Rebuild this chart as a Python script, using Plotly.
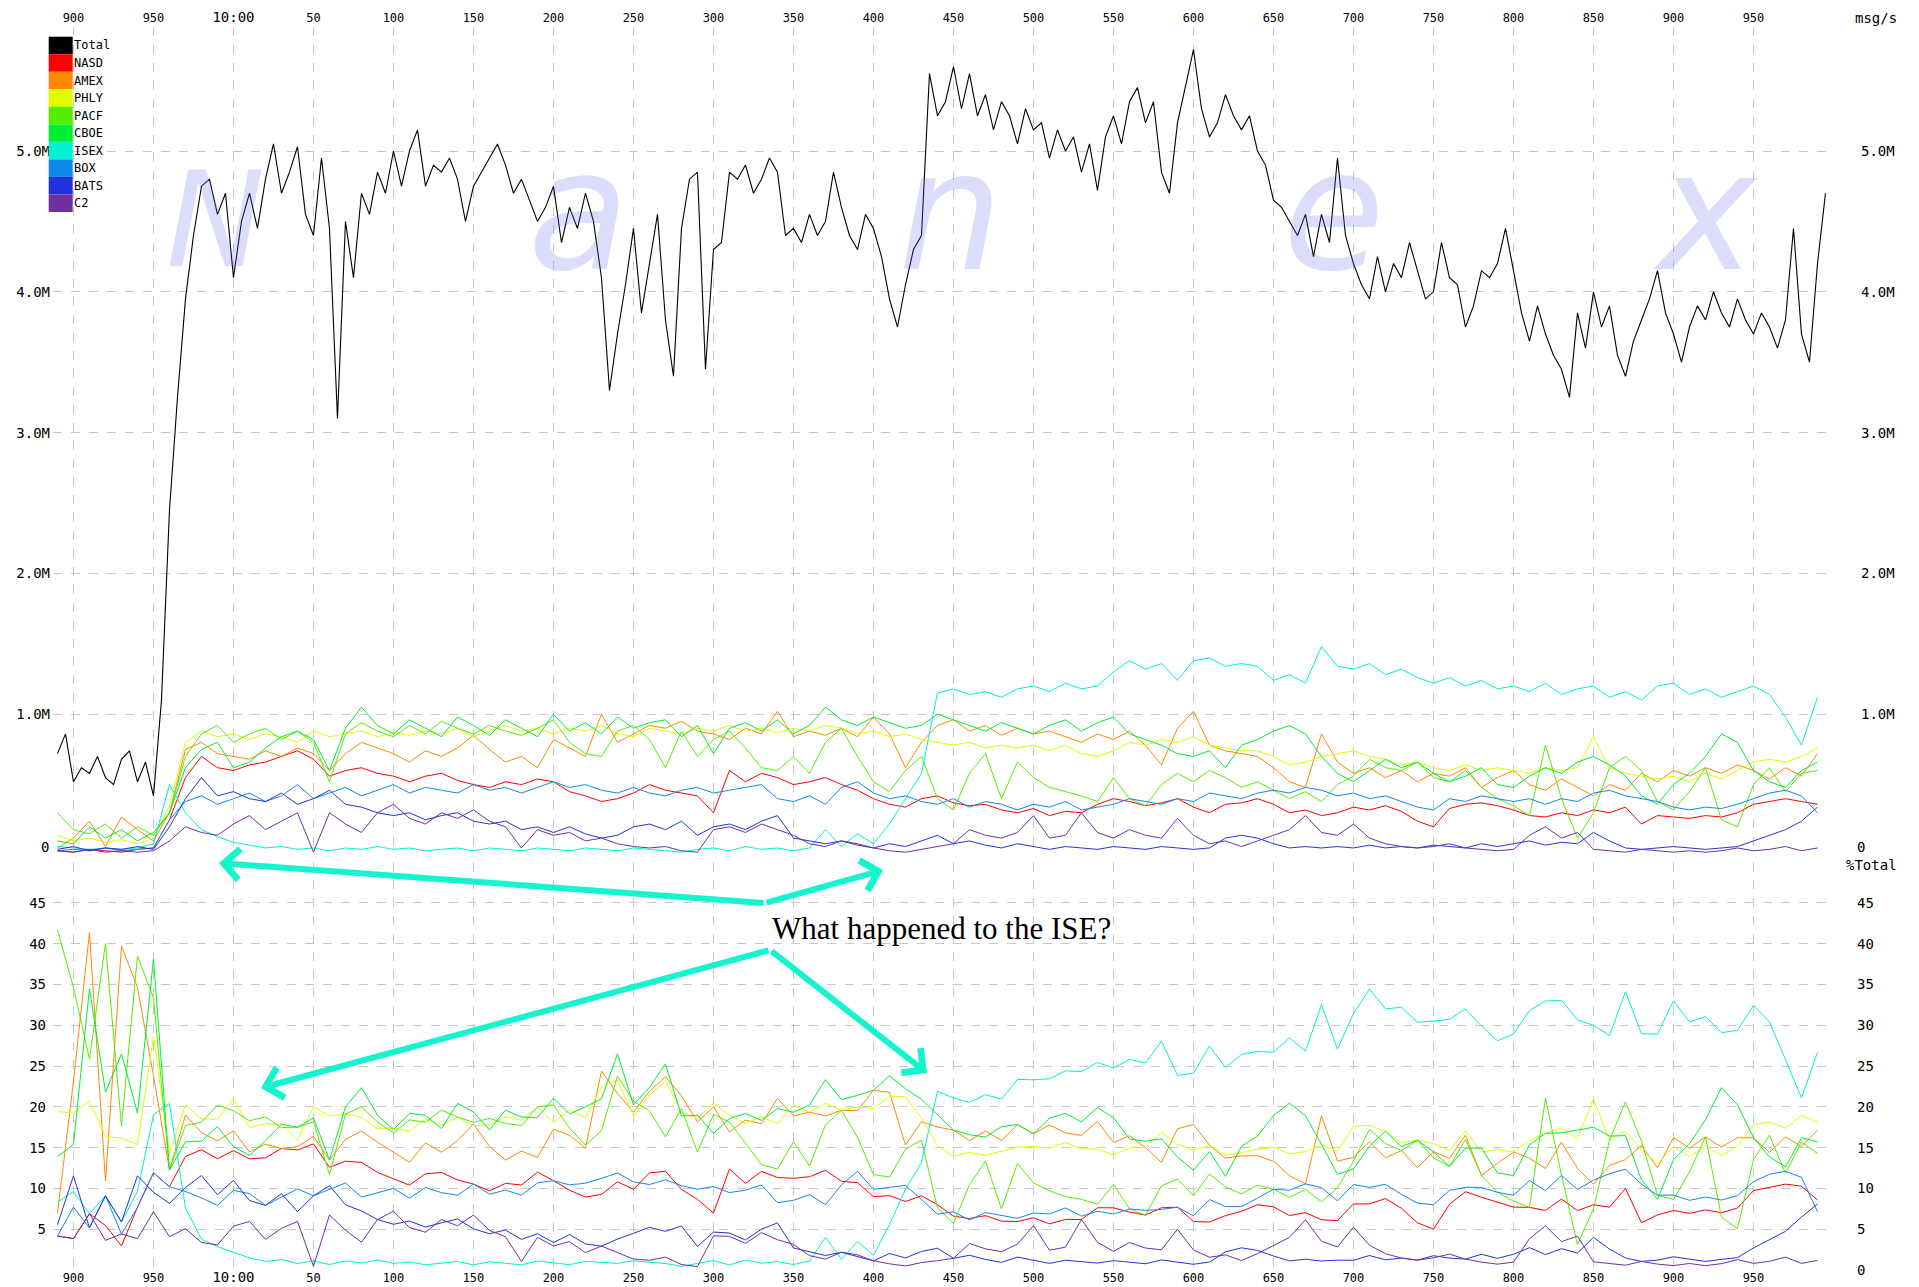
import plotly.graph_objects as go

# ---------------- data ----------------
T_START = 890          # ms after 9:59:59.000 (890 -> 9:59:59.890)
TOTAL_STEP = 5         # ms between Total samples
SERIES_STEP = 10       # ms between exchange samples

# Total msg/s, in millions
TOTAL = [
    0.72, 0.86, 0.52, 0.62, 0.58, 0.70, 0.55, 0.50, 0.68, 0.74,
    0.52, 0.66, 0.42, 1.10, 2.45, 3.25, 3.95, 4.40, 4.75, 4.80,
    4.55, 4.70, 4.10, 4.50, 4.70, 4.45, 4.80, 5.05, 4.70, 4.85,
    5.03, 4.55, 4.40, 4.95, 4.45, 3.10, 4.50, 4.10, 4.70, 4.55,
    4.85, 4.70, 5.00, 4.75, 5.00, 5.15, 4.75, 4.90, 4.85, 4.95,
    4.80, 4.50, 4.75, 4.85, 4.95, 5.05, 4.90, 4.70, 4.80, 4.65,
    4.50, 4.60, 4.75, 4.35, 4.60, 4.45, 4.70, 4.50, 4.10, 3.30,
    3.70, 4.05, 4.45, 3.85, 4.20, 4.55, 3.80, 3.40, 4.45, 4.80,
    4.85, 3.45, 4.30, 4.35, 4.85, 4.80, 4.90, 4.70, 4.80, 4.95,
    4.85, 4.40, 4.45, 4.35, 4.55, 4.40, 4.50, 4.85, 4.60, 4.40,
    4.30, 4.55, 4.45, 4.25, 3.95, 3.75, 4.05, 4.30, 4.40, 5.55,
    5.25, 5.35, 5.60, 5.30, 5.55, 5.25, 5.40, 5.15, 5.35, 5.25,
    5.05, 5.30, 5.15, 5.20, 4.95, 5.15, 5.00, 5.10, 4.85, 5.05,
    4.72, 5.10, 5.25, 5.05, 5.35, 5.45, 5.20, 5.35, 4.85, 4.70,
    5.20, 5.45, 5.72, 5.30, 5.10, 5.20, 5.40, 5.25, 5.15, 5.25,
    5.00, 4.90, 4.65, 4.60, 4.50, 4.40, 4.55, 4.25, 4.55, 4.35,
    4.95, 4.40, 4.20, 4.05, 3.95, 4.25, 4.00, 4.20, 4.10, 4.35,
    4.15, 3.95, 4.00, 4.35, 4.10, 4.05, 3.75, 3.90, 4.15, 4.10,
    4.20, 4.45, 4.15, 3.85, 3.65, 3.90, 3.70, 3.55, 3.45, 3.25,
    3.85, 3.60, 4.00, 3.75, 3.90, 3.55, 3.40, 3.65, 3.80, 3.95,
    4.15, 3.85, 3.70, 3.50, 3.75, 3.90, 3.80, 4.00, 3.85, 3.75,
    3.95, 3.80, 3.70, 3.85, 3.75, 3.60, 3.80, 4.45, 3.70, 3.50,
    4.20, 4.70,
]

# Exchange msg/s, in millions (10 ms samples from 890 to 1990)
NASD = [
    0.03, 0.02, 0.04, 0.03, 0.02, 0.04, 0.05,
    0.25, 0.55, 0.70, 0.62, 0.60, 0.64, 0.66, 0.70, 0.74, 0.68,
    0.56, 0.60, 0.62, 0.58, 0.56, 0.52, 0.56, 0.58, 0.53, 0.50,
    0.48, 0.52, 0.50, 0.54, 0.52, 0.45, 0.42, 0.38, 0.40, 0.44,
    0.50, 0.46, 0.44, 0.42, 0.30, 0.60, 0.52, 0.58, 0.55, 0.50,
    0.52, 0.55, 0.50, 0.46, 0.40, 0.36, 0.34, 0.40, 0.42, 0.37,
    0.35, 0.36, 0.32, 0.30, 0.33, 0.28, 0.31, 0.30, 0.36, 0.40,
    0.38, 0.35, 0.37, 0.40, 0.34, 0.30, 0.36, 0.37, 0.40, 0.36,
    0.30, 0.32, 0.28, 0.30, 0.34, 0.32, 0.35, 0.31, 0.24, 0.20,
    0.33, 0.36, 0.37, 0.35, 0.32, 0.28, 0.27, 0.30, 0.28, 0.32,
    0.30, 0.34, 0.22, 0.28, 0.27, 0.26, 0.28, 0.27, 0.30, 0.36,
    0.38, 0.40, 0.38, 0.36,
]
AMEX = [
    0.05, 0.12, 0.24, 0.06, 0.27, 0.18, 0.10,
    0.30, 0.75, 0.80, 0.72, 0.70, 0.68, 0.74, 0.70, 0.76, 0.72,
    0.60, 0.72, 0.80, 0.76, 0.72, 0.66, 0.74, 0.70, 0.76, 0.85,
    0.75, 0.66, 0.70, 0.62, 0.82, 0.76, 0.70, 1.00, 0.80, 0.86,
    0.92, 0.90, 0.95, 0.88, 0.86, 0.82, 0.90, 0.86, 1.02, 0.84,
    0.88, 0.85, 0.90, 0.84, 0.98, 0.86, 0.62, 0.80, 0.92, 0.96,
    0.88, 0.92, 0.85, 0.90, 0.86, 0.88, 0.84, 0.80, 0.86, 0.82,
    0.88, 0.78, 0.64, 0.90, 1.02, 0.78, 0.74, 0.72, 0.70, 0.62,
    0.52, 0.48, 0.86, 0.66, 0.58, 0.62, 0.55, 0.60, 0.52, 0.58,
    0.56, 0.62, 0.48, 0.55, 0.60, 0.50, 0.46, 0.54, 0.48, 0.42,
    0.50, 0.46, 0.58, 0.52, 0.60, 0.56, 0.62, 0.58, 0.64, 0.60,
    0.54, 0.62, 0.56, 0.72,
]
PHLY = [
    0.14, 0.10, 0.12, 0.09, 0.11, 0.08, 0.12,
    0.35, 0.80, 0.88, 0.84, 0.86, 0.82, 0.86, 0.84, 0.80, 0.88,
    0.84, 0.86, 0.88, 0.84, 0.87, 0.85, 0.88, 0.86, 0.90, 0.84,
    0.88, 0.92, 0.88, 0.90, 0.86, 0.90, 0.88, 0.92, 0.86, 0.84,
    0.90, 0.88, 0.86, 0.90, 0.88, 0.92, 0.88, 0.90, 0.87, 0.90,
    0.88, 0.92, 0.90, 0.86, 0.88, 0.84, 0.86, 0.82, 0.80, 0.78,
    0.80, 0.76, 0.78, 0.76, 0.78, 0.74, 0.78, 0.72, 0.70, 0.74,
    0.80, 0.78, 0.82, 0.80, 0.84, 0.78, 0.76, 0.74, 0.74, 0.70,
    0.64, 0.66, 0.70, 0.72, 0.74, 0.70, 0.68, 0.64, 0.66, 0.62,
    0.60, 0.64, 0.60, 0.62, 0.60, 0.58, 0.62, 0.60, 0.62, 0.84,
    0.62, 0.58, 0.56, 0.54, 0.56, 0.52, 0.58, 0.54, 0.60, 0.66,
    0.68, 0.66, 0.70, 0.76,
]
PACF = [
    0.30, 0.18, 0.15, 0.22, 0.12, 0.20, 0.14,
    0.30, 0.70, 0.86, 0.92, 0.80, 0.86, 0.90, 0.82, 0.88, 0.80,
    0.52, 0.86, 0.94, 0.88, 0.84, 0.92, 0.86, 0.95, 0.90, 0.86,
    0.92, 0.88, 0.85, 0.90, 0.96, 0.80, 0.72, 0.70, 0.88, 0.92,
    0.82, 0.62, 0.88, 0.70, 0.82, 0.88, 0.76, 0.62, 0.60, 0.70,
    0.58, 0.80, 0.90, 0.70, 0.52, 0.45, 0.60, 0.70, 0.40, 0.32,
    0.58, 0.72, 0.40, 0.66, 0.55, 0.48, 0.45, 0.42, 0.38, 0.55,
    0.40, 0.35, 0.50, 0.58, 0.52, 0.60, 0.55, 0.48, 0.52, 0.46,
    0.40, 0.45, 0.38, 0.50, 0.56, 0.68, 0.62, 0.60, 0.66, 0.55,
    0.52, 0.60, 0.48, 0.40, 0.35, 0.28, 0.78, 0.40, 0.12, 0.30,
    0.62, 0.70, 0.60, 0.38, 0.32, 0.45, 0.62, 0.25, 0.20, 0.50,
    0.62, 0.45, 0.58, 0.60,
]
CBOE = [
    0.10, 0.08, 0.20, 0.12, 0.18, 0.10, 0.16,
    0.30, 0.62, 0.75, 0.80, 0.62, 0.66, 0.76, 0.84, 0.88, 0.82,
    0.60, 0.90, 1.05, 0.92, 0.86, 0.96, 0.90, 0.84, 0.98, 0.92,
    0.85, 0.96, 0.90, 0.84, 1.00, 0.88, 0.94, 0.86, 0.98, 0.90,
    0.94, 0.96, 0.84, 0.92, 0.72, 0.90, 0.94, 0.88, 0.96, 0.86,
    0.92, 1.05, 0.96, 0.92, 0.98, 0.94, 0.90, 0.92, 1.00, 0.96,
    0.92, 0.88, 0.94, 0.90, 0.86, 0.92, 0.96, 0.88, 0.94, 0.98,
    0.86, 0.82, 0.78, 0.72, 0.70, 0.74, 0.62, 0.78, 0.82, 0.88,
    0.92, 0.86, 0.70, 0.58, 0.52, 0.60, 0.68, 0.62, 0.66, 0.58,
    0.52, 0.56, 0.62, 0.50, 0.48, 0.56, 0.62, 0.58, 0.66, 0.70,
    0.64, 0.56, 0.42, 0.36, 0.50, 0.58, 0.70, 0.86, 0.80, 0.60,
    0.52, 0.48, 0.60, 0.66,
]
ISEX = [
    0.06, 0.05, 0.04, 0.05, 0.04, 0.05, 0.08,
    0.50, 0.30, 0.18, 0.13, 0.09, 0.07, 0.05, 0.06, 0.04, 0.05,
    0.03, 0.05, 0.04, 0.06, 0.04, 0.05, 0.03, 0.04, 0.05, 0.03,
    0.05, 0.04, 0.03, 0.05, 0.04, 0.03, 0.05, 0.04, 0.03, 0.05,
    0.04, 0.03, 0.02, 0.04, 0.05, 0.03, 0.06, 0.04, 0.05, 0.03,
    0.05, 0.18, 0.06, 0.15, 0.08, 0.22, 0.40, 0.58, 1.15, 1.18,
    1.14, 1.16, 1.12, 1.18, 1.20, 1.16, 1.22, 1.18, 1.20, 1.30,
    1.38, 1.32, 1.36, 1.24, 1.38, 1.40, 1.34, 1.36, 1.34, 1.24,
    1.28, 1.22, 1.48, 1.34, 1.32, 1.36, 1.28, 1.32, 1.26, 1.22,
    1.26, 1.20, 1.24, 1.18, 1.20, 1.16, 1.22, 1.14, 1.18, 1.20,
    1.12, 1.16, 1.10, 1.20, 1.22, 1.14, 1.18, 1.12, 1.16, 1.20,
    1.14, 0.98, 0.78, 1.12,
]
BOX = [
    0.03, 0.04, 0.03, 0.05, 0.03, 0.04, 0.05,
    0.25, 0.38, 0.42, 0.36, 0.40, 0.44, 0.38, 0.42, 0.50, 0.40,
    0.44, 0.48, 0.42, 0.46, 0.50, 0.44, 0.48, 0.46, 0.44, 0.50,
    0.46, 0.48, 0.44, 0.48, 0.52, 0.48, 0.50, 0.46, 0.44, 0.48,
    0.44, 0.42, 0.46, 0.48, 0.44, 0.46, 0.48, 0.50, 0.40, 0.38,
    0.42, 0.36, 0.48, 0.52, 0.44, 0.40, 0.42, 0.38, 0.36, 0.40,
    0.34, 0.38, 0.36, 0.32, 0.36, 0.34, 0.38, 0.32, 0.34, 0.36,
    0.40, 0.38, 0.36, 0.40, 0.38, 0.44, 0.42, 0.40, 0.44, 0.46,
    0.44, 0.48, 0.46, 0.42, 0.44, 0.40, 0.42, 0.38, 0.34, 0.32,
    0.40, 0.38, 0.42, 0.40, 0.38, 0.40, 0.36, 0.40, 0.38, 0.44,
    0.46, 0.42, 0.40, 0.38, 0.34, 0.32, 0.34, 0.33, 0.36, 0.40,
    0.44, 0.46, 0.42, 0.30,
]
BATS = [
    0.04, 0.06, 0.03, 0.05, 0.04, 0.06, 0.04,
    0.20, 0.40, 0.55, 0.42, 0.45, 0.40, 0.38, 0.44, 0.36, 0.40,
    0.46, 0.36, 0.34, 0.30, 0.28, 0.30, 0.25, 0.28, 0.30, 0.24,
    0.22, 0.24, 0.18, 0.20, 0.16, 0.20, 0.15, 0.12, 0.14, 0.20,
    0.22, 0.18, 0.24, 0.14, 0.20, 0.22, 0.18, 0.24, 0.28, 0.12,
    0.10, 0.08, 0.10, 0.07, 0.05, 0.08, 0.06, 0.10, 0.14, 0.08,
    0.10, 0.07, 0.05, 0.08, 0.06, 0.04, 0.06, 0.05, 0.04, 0.06,
    0.05, 0.04, 0.06, 0.05, 0.04, 0.05, 0.12, 0.14, 0.12, 0.08,
    0.05, 0.06, 0.05, 0.06, 0.05, 0.07, 0.05, 0.06, 0.05, 0.07,
    0.06, 0.05, 0.08, 0.06, 0.08, 0.10, 0.07, 0.09, 0.08, 0.16,
    0.10, 0.05, 0.04, 0.05, 0.06, 0.05, 0.04, 0.05, 0.06, 0.10,
    0.14, 0.18, 0.24, 0.34,
]
C2 = [
    0.03, 0.02, 0.04, 0.02, 0.03, 0.02, 0.03,
    0.10, 0.20, 0.16, 0.14, 0.22, 0.28, 0.18, 0.24, 0.30, 0.02,
    0.30, 0.22, 0.16, 0.30, 0.36, 0.26, 0.22, 0.30, 0.26, 0.32,
    0.24, 0.20, 0.05, 0.18, 0.14, 0.16, 0.10, 0.12, 0.08, 0.06,
    0.05, 0.06, 0.03, 0.02, 0.18, 0.20, 0.16, 0.22, 0.18, 0.14,
    0.08, 0.06, 0.10, 0.08, 0.05, 0.03, 0.02, 0.04, 0.06, 0.08,
    0.18, 0.14, 0.12, 0.16, 0.28, 0.12, 0.14, 0.30, 0.16, 0.12,
    0.18, 0.14, 0.12, 0.26, 0.14, 0.08, 0.10, 0.06, 0.10, 0.14,
    0.18, 0.28, 0.16, 0.14, 0.22, 0.12, 0.08, 0.06, 0.05, 0.06,
    0.08, 0.05, 0.04, 0.03, 0.04, 0.14, 0.20, 0.12, 0.16, 0.04,
    0.03, 0.02, 0.04, 0.03, 0.02, 0.03, 0.02, 0.03, 0.05, 0.03,
    0.04, 0.06, 0.03, 0.05,
]

SERIES_NAMES = ["NASD", "AMEX", "PHLY", "PACF", "CBOE", "ISEX", "BOX", "BATS", "C2"]
SERIES_VALUES = [NASD, AMEX, PHLY, PACF, CBOE, ISEX, BOX, BATS, C2]
SERIES_COLORS = ["#ff0000", "#ff8800", "#ddff00", "#55ee00", "#00ee33",
                 "#00f2d2", "#1188ee", "#2233dd", "#7030a0"]
TOTAL_NAME = "Total"
TOTAL_COLOR = "#000000"

X_TICKS = [900, 950, 1000, 1050, 1100, 1150, 1200, 1250, 1300, 1350, 1400,
           1450, 1500, 1550, 1600, 1650, 1700, 1750, 1800, 1850, 1900, 1950]
X_TICK_LABELS = ["900", "950", "10:00", "50", "100",
                 "150", "200", "250", "300", "350", "400", "450", "500", "550",
                 "600", "650", "700", "750", "800", "850", "900", "950"]
MSG_TICKS = [0, 1, 2, 3, 4, 5]
MSG_TICK_TEXT = ["", "1.0M", "2.0M", "3.0M", "4.0M", "5.0M"]   # "0" drawn raised, below
MSG_ZERO_TEXT = "0"
PCT_TICKS = [0, 5, 10, 15, 20, 25, 30, 35, 40, 45]
PCT_TICK_TEXT_LEFT = ["", "5", "10", "15", "20", "25", "30", "35", "40", "45"]
PCT_TICK_TEXT_RIGHT = ["0", "5", "10", "15", "20", "25", "30", "35", "40", "45"]
WATERMARK = ["N", "a", "n", "e", "x"]
NOTE = "What happened to the ISE?"

# ---------------- derived ----------------
x_total = [T_START + TOTAL_STEP * i for i in range(len(TOTAL))]
x_series = [T_START + SERIES_STEP * j for j in range(len(NASD))]
ratio = SERIES_STEP // TOTAL_STEP
total_on_series_grid = TOTAL[::ratio][:len(NASD)]


def big_hour(labels, size):
    return ['<span style="font-size:%dpx">%s</span>' % (size, t) if ":" in t else t
            for t in labels]


# ---------------- geometry (reference pixels -> paper) ----------------
FIG_W, FIG_H = 1911, 1279          # page body has an 8px margin
PL, PR_EDGE, PT, PB = 53, 1830, 27, 1270   # plot area in reference pixels
PW, PH = PR_EDGE - PL, PB - PT
OFF = 8


def px(x):
    return (x - PL) / PW


def py(y):
    return (PB - y) / PH


TOP_DOMAIN = [py(855), 1.0]
BOT_DOMAIN = [0.0, py(862)]
X_RANGE = [887.2, 887.2 + PW / 1.6]
MSG_RANGE = [0, (855 - PT) / 140.8]
PCT_RANGE = [0, (PB - 862) / 8.16]

MONO = "DejaVu Sans Mono"
GRID = "#c8c8c8"

fig = go.Figure()

for name, vals, col in zip(SERIES_NAMES, SERIES_VALUES, SERIES_COLORS):
    fig.add_trace(go.Scatter(x=x_series, y=vals, mode="lines", name=name,
                             line=dict(color=col, width=1), xaxis="x", yaxis="y"))
fig.add_trace(go.Scatter(x=x_total, y=TOTAL, mode="lines", name=TOTAL_NAME,
                         line=dict(color=TOTAL_COLOR, width=1.1), xaxis="x", yaxis="y"))

for name, vals, col in zip(SERIES_NAMES, SERIES_VALUES, SERIES_COLORS):
    pct = [100.0 * v / t for v, t in zip(vals, total_on_series_grid)]
    fig.add_trace(go.Scatter(x=x_series, y=pct, mode="lines", name=name + " %",
                             line=dict(color=col, width=1), xaxis="x2", yaxis="y2"))

# empty traces to bind the right-hand axes
fig.add_trace(go.Scatter(x=[], y=[], xaxis="x", yaxis="y3", showlegend=False, hoverinfo="skip"))
fig.add_trace(go.Scatter(x=[], y=[], xaxis="x2", yaxis="y4", showlegend=False, hoverinfo="skip"))

tickfont_x = dict(family=MONO, size=12, color="black")
tickfont_y = dict(family=MONO, size=14, color="black")

xcommon = dict(range=X_RANGE, tickmode="array", tickvals=X_TICKS,
               showgrid=True, gridcolor=GRID, griddash="dash", gridwidth=1,
               zeroline=False, showline=False, ticks="", tickfont=tickfont_x,
               domain=[0, 1], automargin=False)
ycommon = dict(zeroline=False, showline=False, ticks="", tickfont=tickfont_y,
               tickmode="array", automargin=False)

fig.update_layout(
    width=FIG_W, height=FIG_H,
    margin=dict(l=PL - OFF, r=FIG_W - (PR_EDGE - OFF), t=PT - OFF, b=FIG_H - (PB - OFF),
                pad=0, autoexpand=False),
    paper_bgcolor="white", plot_bgcolor="white",
    showlegend=False,
    xaxis=dict(**xcommon, side="top", anchor="y", ticklabelstandoff=2,
               ticktext=big_hour(X_TICK_LABELS, 14)),
    xaxis2=dict(**xcommon, side="bottom", anchor="y2", ticklabelstandoff=-1,
                ticktext=big_hour(X_TICK_LABELS, 14)),
    yaxis=dict(**ycommon, domain=TOP_DOMAIN, range=MSG_RANGE, anchor="x",
               tickvals=MSG_TICKS, ticktext=MSG_TICK_TEXT,
               showgrid=True, gridcolor=GRID, griddash="dash", ticklabelstandoff=2),
    yaxis3=dict(**ycommon, overlaying="y", side="right", anchor="x", range=MSG_RANGE,
                tickvals=MSG_TICKS, ticktext=MSG_TICK_TEXT,
                showgrid=False, ticklabelstandoff=30),
    yaxis2=dict(**ycommon, domain=BOT_DOMAIN, range=PCT_RANGE, anchor="x2",
                tickvals=PCT_TICKS, ticktext=PCT_TICK_TEXT_LEFT,
                showgrid=True, gridcolor=GRID, griddash="dash", ticklabelstandoff=6),
    yaxis4=dict(**ycommon, overlaying="y2", side="right", anchor="x2", range=PCT_RANGE,
                tickvals=PCT_TICKS, ticktext=PCT_TICK_TEXT_RIGHT,
                showgrid=False, ticklabelstandoff=26),
)

# raised "0" labels of the msg/s axis (left and right)
fig.add_annotation(text=MSG_ZERO_TEXT, xref="paper", yref="paper", x=px(50), y=py(847),
                   xanchor="right", yanchor="middle", showarrow=False, borderpad=0,
                   font=tickfont_y)
fig.add_annotation(text=MSG_ZERO_TEXT, xref="paper", yref="paper", x=px(1856), y=py(847),
                   xanchor="left", yanchor="middle", showarrow=False, borderpad=0,
                   font=tickfont_y)

# watermark letters
WM_X = [215, 578, 950, 1334, 1705]
for letter, cx in zip(WATERMARK, WM_X):
    size = 132 if letter.isupper() else 165
    fig.add_annotation(text="<i>" + letter + "</i>", xref="paper", yref="paper",
                       x=px(cx), y=py(220 if letter.isupper() else 212),
                       xanchor="center", yanchor="middle", showarrow=False,
                       font=dict(family="DejaVu Sans", size=size, color="rgba(95,95,235,0.22)"))

# legend block
LEG_TOP, LEG_H, LEG_X0, LEG_X1 = 36.7, 17.53, 48.7, 72.7
legend_names = [TOTAL_NAME] + SERIES_NAMES
legend_colors = [TOTAL_COLOR] + SERIES_COLORS
for i, (name, col) in enumerate(zip(legend_names, legend_colors)):
    fig.add_shape(type="rect", xref="paper", yref="paper",
                  x0=px(LEG_X0), x1=px(LEG_X1),
                  y0=py(LEG_TOP + (i + 1) * LEG_H), y1=py(LEG_TOP + i * LEG_H),
                  fillcolor=col, line=dict(width=0), layer="above")
    fig.add_annotation(text=name, xref="paper", yref="paper",
                       x=px(LEG_X1 + 0.5), y=py(LEG_TOP + (i + 0.5) * LEG_H),
                       xanchor="left", yanchor="middle", showarrow=False, borderpad=0,
                       font=dict(family=MONO, size=12, color="black"))

# axis unit labels
fig.add_annotation(text="msg/s", xref="paper", yref="paper", x=px(1898), y=py(18),
                   xanchor="right", yanchor="middle", showarrow=False, borderpad=0,
                   font=dict(family=MONO, size=14, color="black"))
fig.add_annotation(text="%Total", xref="paper", yref="paper", x=px(1898), y=py(865),
                   xanchor="right", yanchor="middle", showarrow=False, borderpad=0,
                   font=dict(family=MONO, size=14, color="black"))

# note and arrows
fig.add_annotation(text=NOTE, xref="paper", yref="paper", x=px(941), y=py(928),
                   xanchor="center", yanchor="middle", showarrow=False,
                   font=dict(family="Liberation Serif", size=31, color="black"))

ARROW_COLOR = "#14f5cf"
ARROWS = [((765, 903), (219, 863)), ((765, 903), (883, 870)),
          ((770, 950), (261, 1088)), ((770, 950), (927, 1073))]
for (tx, ty), (hx, hy) in ARROWS:
    fig.add_annotation(text="", xref="paper", yref="paper", x=px(hx), y=py(hy),
                       ax=tx - hx, ay=ty - hy, axref="pixel", ayref="pixel",
                       showarrow=True, arrowhead=4, arrowsize=1.0, arrowwidth=6,
                       arrowcolor=ARROW_COLOR, standoff=0, startstandoff=0)

fig.write_html("out.html")
